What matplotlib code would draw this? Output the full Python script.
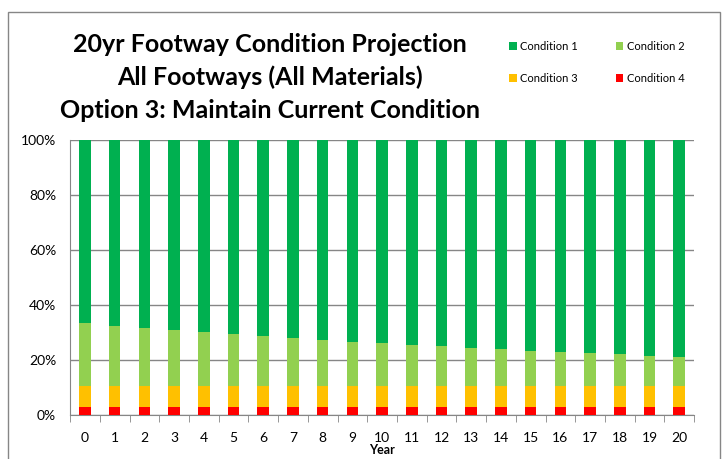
import matplotlib
matplotlib.use("Agg")
import matplotlib.pyplot as plt
import matplotlib.patches as patches
from matplotlib.ticker import PercentFormatter, FixedLocator
import numpy as np

plt.rcParams["font.family"] = ["Lato", "DejaVu Sans"]

years = list(range(21))
cond4 = [3.0] * 21
cond3 = [7.5] * 21
cond2_top = [33.3, 32.5, 31.6, 30.9, 30.1, 29.3, 28.7, 28.0, 27.4, 26.5, 26.1,
             25.6, 25.1, 24.5, 24.0, 23.4, 22.9, 22.5, 22.2, 21.6, 21.2]
cond2 = [t - 10.5 for t in cond2_top]
cond1 = [100 - t for t in cond2_top]

labels = ["Condition 1", "Condition 2", "Condition 3", "Condition 4"]
colors = ["#00B050", "#92D050", "#FFC000", "#FF0000"]

fig = plt.figure(figsize=(7.23, 4.59), dpi=100)
ax = fig.add_axes([0.097, 0.096, 0.863, 0.599])

x = np.arange(len(years))
w = 0.39
b4 = ax.bar(x, cond4, w, color=colors[3], zorder=3)
b3 = ax.bar(x, cond3, w, bottom=cond4, color=colors[2], zorder=3)
b2 = ax.bar(x, cond2, w, bottom=[a + b for a, b in zip(cond4, cond3)],
            color=colors[1], zorder=3)
b1 = ax.bar(x, cond1, w, bottom=cond2_top, color=colors[0], zorder=3)

ax.set_xlim(-0.5, len(years) - 0.5)
ax.set_ylim(0, 100)
ax.set_yticks(range(0, 101, 20))
ax.yaxis.set_major_formatter(PercentFormatter(decimals=0))
ax.set_xticks(x)
ax.set_xticklabels([str(y) for y in years])
ax.tick_params(axis="x", length=0, labelsize=10, pad=12)
ax.xaxis.set_minor_locator(FixedLocator(np.arange(-0.5, len(years), 1)))
ax.tick_params(axis="x", which="minor", length=5, color="#868686")
ax.tick_params(axis="y", length=0, labelsize=10, pad=10)
ax.grid(True, axis="y", color="#868686", linewidth=1, zorder=0)
for s in ["top", "right"]:
    ax.spines[s].set_visible(False)
ax.spines["left"].set_color("#868686")
ax.spines["bottom"].set_color("#868686")
ax.set_xlabel("Year", fontweight="bold", fontsize=9, labelpad=0)

fig.text(0.373, 0.832, "20yr Footway Condition Projection\nAll Footways (All Materials)\nOption 3: Maintain Current Condition",
         ha="center", va="center", fontsize=18, fontweight="bold", linespacing=1.5)

# legend fills column-wise, so order handles to read row-wise
ax.legend(handles=[b1, b3, b2, b4], labels=[labels[0], labels[2], labels[1], labels[3]],
          ncol=2, loc="upper left",
          bbox_to_anchor=(0.69, 0.933), bbox_transform=fig.transFigure,
          frameon=False, fontsize=8, handlelength=0.7, handleheight=0.7,
          columnspacing=3.4, labelspacing=1.9, handletextpad=0.3)

fig.patches.append(patches.Rectangle((8 / 723, -0.01), 712 / 723, 1 - 12 / 459 + 0.01,
                                     transform=fig.transFigure, fill=False,
                                     edgecolor="#868686", linewidth=1))

fig.savefig("out.png", dpi=100)
